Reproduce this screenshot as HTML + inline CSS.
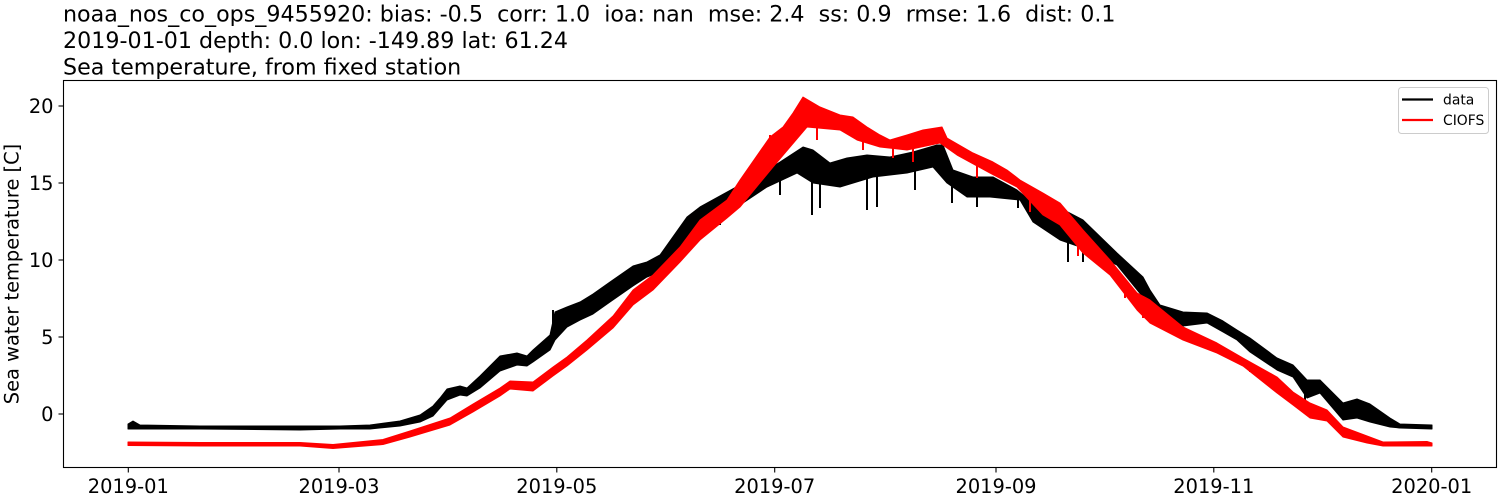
<!DOCTYPE html>
<html>
<head>
<meta charset="utf-8">
<style>
html,body{margin:0;padding:0;background:#fff;}
svg{display:block;}
text{font-family:"DejaVu Sans","Liberation Sans",sans-serif;fill:#000;white-space:pre;}
</style>
</head>
<body>
<svg width="1500" height="500" viewBox="0 0 1500 500" xmlns="http://www.w3.org/2000/svg" xml:space="preserve">
<rect x="0" y="0" width="1500" height="500" fill="#fff"/>
<!-- titles -->
<text x="63" y="21.5" font-size="22.2">noaa_nos_co_ops_9455920: bias: -0.5  corr: 1.0  ioa: nan  mse: 2.4  ss: 0.9  rmse: 1.6  dist: 0.1</text>
<text x="63" y="48" font-size="22.2">2019-01-01 depth: 0.0 lon: -149.89 lat: 61.24</text>
<text x="63" y="74.5" font-size="22.2">Sea temperature, from fixed station</text>

<!-- data (black) -->
<g>
<polygon fill="#000" stroke="#000" stroke-width="1" stroke-linejoin="round" points="128,424 133,421 140,425 200,426 300,426 340,426 370,425 400,421 420,415 433,406 440,398 447,389 460,386 467,388 480,376 500,356 517,353 527,356 533,350 550,335 555,312 567,307 580,302 593,294 610,282 633,266 647,262 660,255 687,217 700,207 720,196 740,185 767,170 780,162 803,147 813,150 830,163 847,158 867,155 890,157 913,152 937,145 943,145 953,170 973,177 993,177 1017,190 1033,203 1060,208 1083,220 1117,253 1143,277 1150,290 1160,305 1183,312 1207,313 1223,321 1237,330 1250,338 1277,358 1293,365 1307,380 1320,380 1343,403 1357,399 1370,404 1390,418 1400,424 1432,425 1432,429 1400,428 1390,427 1370,422 1357,418 1343,420 1320,393 1307,398 1293,377 1277,370 1250,352 1237,340 1223,332 1207,323 1183,326 1160,313 1150,303 1143,297 1117,265 1083,248 1060,240 1033,222 1020,200 990,197 967,197 947,183 933,167 907,173 873,177 840,187 813,183 797,173 767,187 740,205 720,212 700,228 687,240 660,272 647,277 633,286 610,302 593,314 580,320 567,327 555,340 550,350 533,362 527,366 517,365 500,371 480,388 467,396 460,395 447,400 433,416 420,422 400,426 370,429 340,429 300,430 200,429 140,429 128,429"/>
<g stroke="#000" stroke-width="2">
<line x1="812" y1="180" x2="812" y2="215"/>
<line x1="820" y1="180" x2="820" y2="208"/>
<line x1="867" y1="175" x2="867" y2="210"/>
<line x1="877" y1="175" x2="877" y2="207"/>
<line x1="915" y1="170" x2="915" y2="190"/>
<line x1="952" y1="180" x2="952" y2="203"/>
<line x1="977" y1="195" x2="977" y2="207"/>
<line x1="1018" y1="195" x2="1018" y2="208"/>
<line x1="780" y1="180" x2="780" y2="195"/>
<line x1="1068" y1="235" x2="1068" y2="262"/>
<line x1="1083" y1="245" x2="1083" y2="262"/>
<line x1="1305" y1="390" x2="1305" y2="400"/>
<line x1="553" y1="310" x2="553" y2="340"/>
<line x1="720" y1="200" x2="720" y2="225"/>
</g>
</g>

<!-- CIOFS (red) -->
<g>
<polygon fill="#f00" stroke="#f00" stroke-width="1" stroke-linejoin="round" points="128,442 200,442.5 300,442.5 333,444.5 383,439.5 410,431 450,418 473,404 500,388 510,381 533,382 553,367 567,357 587,340 613,316 633,290 653,275 680,247 700,220 727,200 740,180 770,137 783,127 793,113 803,97 820,107 840,115 853,117 867,127 880,135 890,140 907,135 923,130 942,127 947,138 973,153 993,162 1007,170 1020,180 1043,193 1060,203 1083,230 1110,260 1137,293 1150,300 1183,327 1217,343 1243,358 1277,377 1293,392 1310,403 1327,410 1343,427 1367,436 1383,442 1427,441.5 1432,443 1432,446 1383,446 1367,443 1343,437 1327,421 1310,418 1293,405 1277,393 1243,366 1217,353 1183,340 1150,323 1137,310 1110,275 1083,253 1060,225 1043,215 1017,187 990,173 957,155 940,143 907,150 880,147 857,140 840,130 807,127 790,147 773,167 740,207 727,218 700,240 680,262 653,290 633,305 613,328 587,350 567,366 553,376 533,391 510,389 500,396 473,412 450,425 410,437 383,444.5 333,448.5 300,446 200,446 128,445.5"/>
<g stroke="#f00" stroke-width="2">
<line x1="817" y1="125" x2="817" y2="140"/>
<line x1="863" y1="135" x2="863" y2="150"/>
<line x1="893" y1="145" x2="893" y2="158"/>
<line x1="913" y1="145" x2="913" y2="162"/>
<line x1="977" y1="165" x2="977" y2="178"/>
<line x1="1030" y1="200" x2="1030" y2="212"/>
<line x1="1078" y1="240" x2="1078" y2="256"/>
<line x1="1125" y1="285" x2="1125" y2="298"/>
<line x1="1143" y1="300" x2="1143" y2="318"/>
<line x1="770" y1="135" x2="770" y2="170"/>
<line x1="1250" y1="362" x2="1250" y2="372"/>
</g>
</g>

<!-- axes frame -->
<rect x="63.5" y="80.5" width="1433" height="387" fill="none" stroke="#000" stroke-width="1.1"/>

<!-- y ticks -->
<g stroke="#000" stroke-width="1.1">
<line x1="58.5" y1="414" x2="63.5" y2="414"/>
<line x1="58.5" y1="337" x2="63.5" y2="337"/>
<line x1="58.5" y1="260" x2="63.5" y2="260"/>
<line x1="58.5" y1="183" x2="63.5" y2="183"/>
<line x1="58.5" y1="106" x2="63.5" y2="106"/>
</g>
<g font-size="19.4" text-anchor="end">
<text x="53.5" y="421">0</text>
<text x="53.5" y="344">5</text>
<text x="53.5" y="267">10</text>
<text x="53.5" y="190">15</text>
<text x="53.5" y="113">20</text>
</g>

<!-- x ticks -->
<g stroke="#000" stroke-width="1.1">
<line x1="128.3" y1="467.5" x2="128.3" y2="472.5"/>
<line x1="339" y1="467.5" x2="339" y2="472.5"/>
<line x1="556.8" y1="467.5" x2="556.8" y2="472.5"/>
<line x1="774.7" y1="467.5" x2="774.7" y2="472.5"/>
<line x1="996" y1="467.5" x2="996" y2="472.5"/>
<line x1="1213.8" y1="467.5" x2="1213.8" y2="472.5"/>
<line x1="1431.7" y1="467.5" x2="1431.7" y2="472.5"/>
</g>
<g font-size="19.4" text-anchor="middle">
<text x="128.3" y="493">2019-01</text>
<text x="339" y="493">2019-03</text>
<text x="556.8" y="493">2019-05</text>
<text x="774.7" y="493">2019-07</text>
<text x="996" y="493">2019-09</text>
<text x="1213.8" y="493">2019-11</text>
<text x="1431.7" y="493">2020-01</text>
</g>

<!-- y label -->
<text x="0" y="0" font-size="19.4" text-anchor="middle" transform="translate(18.5,274) rotate(-90)">Sea water temperature [C]</text>

<!-- legend -->
<rect x="1398.5" y="87.5" width="90" height="46" rx="3" ry="3" fill="#fff" fill-opacity="0.8" stroke="#ccc" stroke-width="1"/>
<line x1="1402" y1="99.5" x2="1433" y2="99.5" stroke="#000" stroke-width="2.2"/>
<line x1="1402" y1="120" x2="1433" y2="120" stroke="#f00" stroke-width="2.2"/>
<text x="1443" y="104.3" font-size="13.9">data</text>
<text x="1443" y="125" font-size="13.9">CIOFS</text>
</svg>
</body>
</html>
